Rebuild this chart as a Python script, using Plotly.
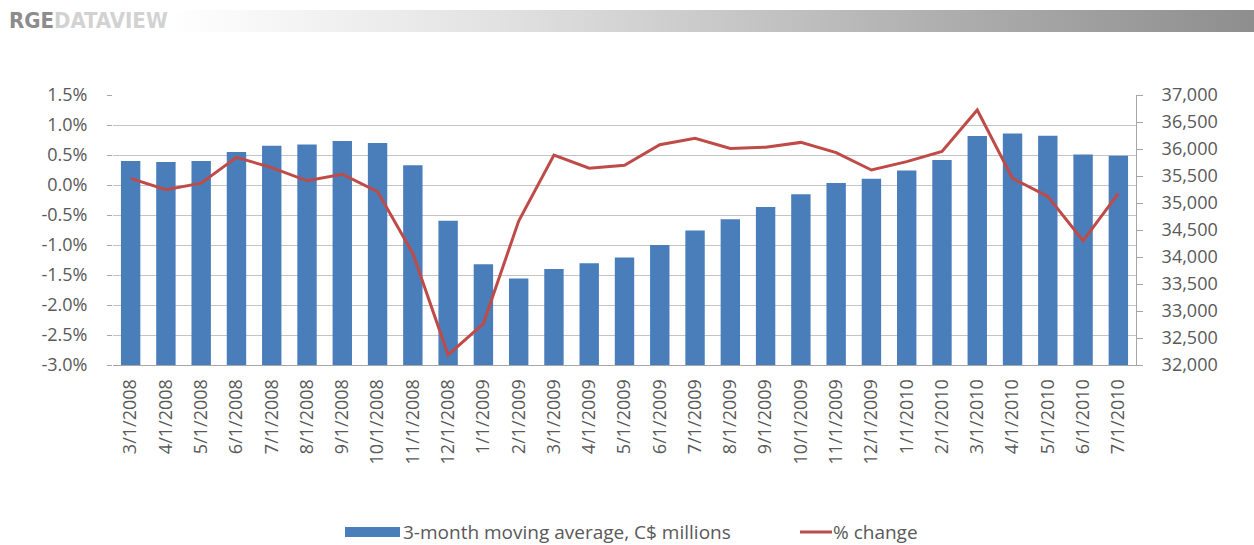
import base64
import plotly.graph_objects as go

months = ["3/1/2008", "4/1/2008", "5/1/2008", "6/1/2008", "7/1/2008", "8/1/2008",
          "9/1/2008", "10/1/2008", "11/1/2008", "12/1/2008", "1/1/2009", "2/1/2009",
          "3/1/2009", "4/1/2009", "5/1/2009", "6/1/2009", "7/1/2009", "8/1/2009",
          "9/1/2009", "10/1/2009", "11/1/2009", "12/1/2009", "1/1/2010", "2/1/2010",
          "3/1/2010", "4/1/2010", "5/1/2010", "6/1/2010", "7/1/2010"]

moving_avg = [35780, 35760, 35780, 35945, 36060, 36085, 36150, 36110, 35700, 34670,
              33865, 33600, 33780, 33885, 33990, 34220, 34490, 34700, 34925, 35160,
              35370, 35450, 35600, 35795, 36240, 36285, 36245, 35900, 35875]

pct_change = [0.11, -0.08, 0.03, 0.46, 0.29, 0.07, 0.18, -0.11, -1.14, -2.83,
              -2.31, -0.60, 0.50, 0.28, 0.33, 0.67, 0.78, 0.61, 0.63, 0.71,
              0.54, 0.25, 0.39, 0.56, 1.25, 0.11, -0.19, -0.93, -0.14]

left_ticks = [1.5, 1.0, 0.5, 0.0, -0.5, -1.0, -1.5, -2.0, -2.5, -3.0]
right_ticks = [37000, 36500, 36000, 35500, 35000, 34500, 34000, 33500, 33000, 32500, 32000]

BAR = "#4a7ebb"
LINE = "#be4b48"
TXT = "#595959"
FONT = "Open Sans, Lato, sans-serif"

W, H = 1254, 545
ML, MR, MT, MB = 113, 118, 95, 180
PW, PH = W - ML - MR, H - MT - MB


def px2paper_x(px):
    return (px - ML) / PW


def px2paper_y(py):
    return (H - MB - py) / PH


fig = go.Figure()
fig.add_trace(go.Bar(x=months, y=moving_avg, name="3-month moving average, C$ millions",
                     marker=dict(color=BAR, line=dict(width=0)), yaxis="y",
                     showlegend=False))
fig.add_trace(go.Scatter(x=months, y=pct_change, name="% change", mode="lines",
                         line=dict(color=LINE, width=3), yaxis="y2", showlegend=False))

# header gradient bar
svg = ('<svg xmlns="http://www.w3.org/2000/svg" width="1084" height="22" preserveAspectRatio="none">'
       '<defs><linearGradient id="g" x1="0" x2="1" y1="0" y2="0">'
       '<stop offset="0" stop-color="#ffffff"/><stop offset="0.3" stop-color="#e2e2e2"/>'
       '<stop offset="0.7" stop-color="#b0b0b0"/><stop offset="1" stop-color="#8e8e8e"/>'
       '</linearGradient></defs><rect width="1084" height="22" fill="url(#g)"/></svg>')
src = "data:image/svg+xml;base64," + base64.b64encode(svg.encode()).decode()

images = [dict(source=src, xref="paper", yref="paper",
               x=px2paper_x(170), y=px2paper_y(10),
               sizex=(1254 - 170) / PW, sizey=22 / PH,
               xanchor="left", yanchor="top", sizing="stretch", layer="below")]

shapes = [
    dict(type="rect", xref="paper", yref="paper",
         x0=px2paper_x(345), x1=px2paper_x(400), y0=px2paper_y(537), y1=px2paper_y(527),
         fillcolor=BAR, line=dict(width=0)),
    dict(type="line", xref="paper", yref="paper",
         x0=px2paper_x(800), x1=px2paper_x(832), y0=px2paper_y(532), y1=px2paper_y(532),
         line=dict(color=LINE, width=3)),
]

annotations = [
    dict(text="<b>RGE</b><span style='color:#d2d2d2'><b>DATAVIEW</b></span>",
         xref="paper", yref="paper", x=px2paper_x(7), y=px2paper_y(21),
         xanchor="left", yanchor="middle", showarrow=False,
         font=dict(family="Liberation Sans Narrow, DejaVu Sans Condensed, sans-serif",
                   size=22, color="#8c8c8c")),
    dict(text="3-month moving average, C$ millions", xref="paper", yref="paper",
         x=px2paper_x(401), y=px2paper_y(532), xanchor="left", yanchor="middle",
         showarrow=False, font=dict(family=FONT, size=19, color=TXT)),
    dict(text="% change", xref="paper", yref="paper",
         x=px2paper_x(831), y=px2paper_y(532), xanchor="left", yanchor="middle",
         showarrow=False, font=dict(family=FONT, size=19, color=TXT)),
]

fig.update_layout(
    width=W, height=H,
    margin=dict(l=ML, r=MR, t=MT, b=MB),
    paper_bgcolor="white", plot_bgcolor="white",
    bargap=0.45,
    font=dict(family=FONT, size=18, color=TXT),
    xaxis=dict(type="category", tickangle=-90, showgrid=False, showline=True,
               linecolor="#a6a6a6", linewidth=1, ticks="", ticklabelstandoff=6,
               tickfont=dict(family=FONT, size=18, color=TXT)),
    yaxis=dict(side="right", range=[32000, 37000], tickvals=right_ticks,
               ticktext=[f"{v:,}" for v in right_ticks], showgrid=False,
               showline=True, linecolor="#a6a6a6", linewidth=1, ticks="outside",
               ticklen=6, tickcolor="#a6a6a6", ticklabelstandoff=15, zeroline=False,
               tickfont=dict(family=FONT, size=18, color=TXT)),
    yaxis2=dict(side="left", overlaying="y", range=[-3.0, 1.5], tickvals=left_ticks,
                ticktext=[f"{v:.1f}%" for v in left_ticks], showgrid=True,
                gridcolor="#c4c4c4", gridwidth=1, showline=False, ticks="outside",
                ticklen=5, tickcolor="#a6a6a6", ticklabelstandoff=16, zeroline=False,
                tickfont=dict(family=FONT, size=18, color=TXT)),
    images=images, shapes=shapes, annotations=annotations,
)

fig.write_html("out.html")
